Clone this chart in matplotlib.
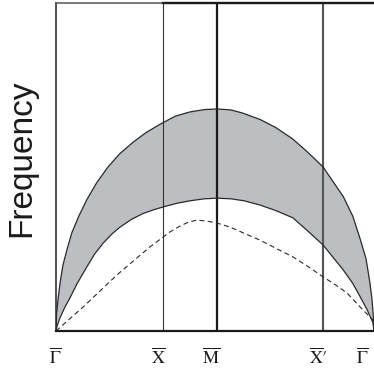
import numpy as np
import matplotlib.pyplot as plt

plt.rcParams['mathtext.fontset'] = 'stix'

# path coordinate of the high-symmetry points
sym_k = [0.0, 2.02, 3.04, 5.04, 6.0]
sym_labels = [r'$\overline{\Gamma}$', r'$\overline{\mathrm{X}}$', r'$\overline{\mathrm{M}}$',
              r'$\overline{\mathrm{X}}\prime$', r'$\overline{\Gamma}$']

# upper edge of the shaded band
upper_k = [0, 0.01, 0.04, 0.08, 0.13, 0.21, 0.30, 0.43, 0.58, 0.76, 0.98, 1.20, 1.45,
           1.70, 1.96, 2.25, 2.53, 2.80, 3.04, 3.30, 3.51, 3.85, 4.15, 4.47, 4.75,
           5.04, 5.25, 5.42, 5.60, 5.74, 5.85, 5.92, 5.96, 5.99, 6.0]
upper_f = [0, 0.05, 0.10, 0.15, 0.20, 0.25, 0.30, 0.35, 0.40, 0.45, 0.50, 0.54, 0.575,
           0.605, 0.63, 0.655, 0.668, 0.675, 0.677, 0.674, 0.665, 0.645, 0.62, 0.585, 0.545,
           0.50, 0.45, 0.41, 0.35, 0.28, 0.22, 0.15, 0.10, 0.04, 0]

# lower edge of the shaded band
lower_k = [0, 0.02, 0.075, 0.16, 0.26, 0.40, 0.58, 0.73, 0.89, 1.05, 1.21, 1.42, 1.64,
           1.85, 2.06, 2.30, 2.53, 2.80, 3.04, 3.30, 3.55, 3.85, 4.15, 4.47, 4.75,
           5.04, 5.25, 5.42, 5.60, 5.74, 5.87, 5.98, 6.0]
lower_f = [0, 0.015, 0.04, 0.07, 0.10, 0.145, 0.195, 0.235, 0.268, 0.295, 0.317, 0.34, 0.358,
           0.37, 0.38, 0.39, 0.397, 0.403, 0.405, 0.403, 0.397, 0.384, 0.367, 0.345, 0.305,
           0.262, 0.22, 0.186, 0.145, 0.104, 0.065, 0.025, 0]

# dashed branch
dash_k = [0, 0.51, 1.15, 1.77, 2.15, 2.34, 2.50, 2.66, 2.85, 3.04, 3.28, 3.55, 3.85,
          4.15, 4.47, 4.75, 5.04, 5.28, 5.49, 5.74, 5.88, 5.98, 6.0]
dash_f = [0, 0.073, 0.171, 0.256, 0.302, 0.32, 0.332, 0.338, 0.335, 0.329, 0.317, 0.298, 0.277,
          0.252, 0.226, 0.197, 0.165, 0.14, 0.116, 0.073, 0.05, 0.034, 0]

fig = plt.figure(figsize=(3.74, 3.71), dpi=100)
ax = fig.add_axes([56 / 374, 40 / 371, 318 / 374, 328 / 371])

# shaded band between the two edges
band_k = np.concatenate([upper_k, lower_k[::-1]])
band_f = np.concatenate([upper_f, lower_f[::-1]])
ax.fill(band_k, band_f, color='#bdbec2', lw=0, zorder=1)
ax.plot(upper_k, upper_f, color='#2a2a2a', lw=0.9, zorder=3)
ax.plot(lower_k, lower_f, color='#2a2a2a', lw=0.9, zorder=3)
ax.plot(dash_k, dash_f, color='#2a2a2a', lw=0.8, ls=(0, (4.5, 3)), zorder=3)

# vertical lines at X, M, X'
ax.axvline(sym_k[1], color='#333333', lw=0.8, zorder=2)
ax.axvline(sym_k[2], color='#1a1a1a', lw=1.6, zorder=2)
ax.axvline(sym_k[3], color='#555555', lw=1.5, zorder=2)

ax.set_xlim(0, 6)
ax.set_ylim(0, 1)
ax.set_xticks([])
ax.set_yticks([])

ax.spines['right'].set_visible(False)
ax.spines['left'].set_color('#333333')
ax.spines['left'].set_linewidth(1.2)
ax.spines['bottom'].set_color('#1a1a1a')
ax.spines['bottom'].set_linewidth(1.6)
ax.spines['top'].set_color('#555555')
ax.spines['top'].set_linewidth(1.1)
ax.axhline(1, xmin=sym_k[1] / 6, xmax=1, color='#1a1a1a', lw=1.7, clip_on=False, zorder=4)

# point labels below the axis
label_x = [-0.02, 1.94, 2.92, 4.96, 5.77]
for x, lab in zip(label_x, sym_labels):
    ax.text(x, -0.08, lab, transform=ax.get_xaxis_transform(), ha='center', va='center',
            fontsize=13, color='#1a1a1a')

fig.text(22 / 374, 1 - 158 / 371, 'Frequency', rotation=90, ha='center', va='center',
         fontsize=24, family='Liberation Sans', color='#1a1a1a')

fig.savefig('out.png', dpi=100)
